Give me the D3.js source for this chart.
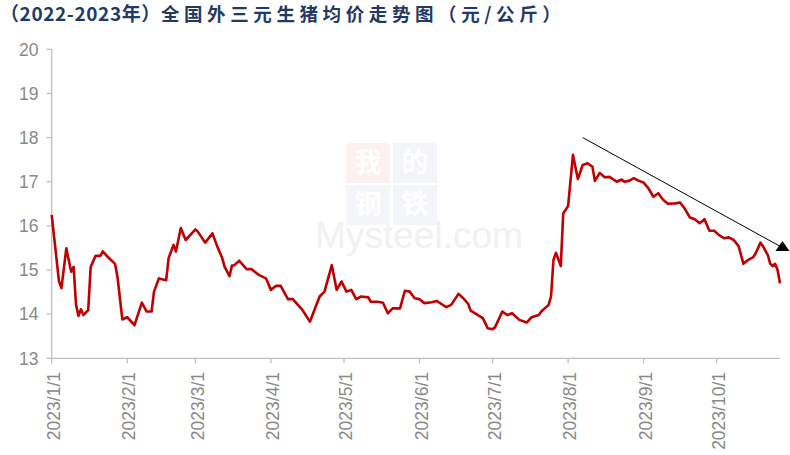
<!DOCTYPE html>
<html><head><meta charset="utf-8">
<script src="https://cdn.jsdelivr.net/npm/d3@7"></script>
<style>body{margin:0;background:#fff}svg{display:block}</style>
</head><body><svg id="c" width="790" height="455"></svg>
<script>
const titleA = "（2022-2023年）";
const titleB = "全国外三元生猪均价走势图（元/公斤）";
const dates = ["2023/1/1","2023/1/4","2023/1/5","2023/1/7","2023/1/9","2023/1/10","2023/1/11","2023/1/12","2023/1/13","2023/1/14","2023/1/16","2023/1/17","2023/1/19","2023/1/21","2023/1/22","2023/1/24","2023/1/27","2023/1/28","2023/1/30","2023/2/1","2023/2/4","2023/2/7","2023/2/9","2023/2/11","2023/2/12","2023/2/14","2023/2/17","2023/2/18","2023/2/20","2023/2/21","2023/2/23","2023/2/25","2023/3/1","2023/3/2","2023/3/5","2023/3/8","2023/3/10","2023/3/12","2023/3/13","2023/3/15","2023/3/16","2023/3/17","2023/3/19","2023/3/22","2023/3/24","2023/3/27","2023/3/30","2023/4/1","2023/4/3","2023/4/5","2023/4/8","2023/4/10","2023/4/14","2023/4/17","2023/4/21","2023/4/23","2023/4/26","2023/4/28","2023/4/30","2023/5/2","2023/5/4","2023/5/6","2023/5/8","2023/5/11","2023/5/12","2023/5/15","2023/5/17","2023/5/19","2023/5/21","2023/5/24","2023/5/26","2023/5/28","2023/5/30","2023/6/1","2023/6/3","2023/6/6","2023/6/8","2023/6/10","2023/6/12","2023/6/14","2023/6/17","2023/6/19","2023/6/21","2023/6/22","2023/6/25","2023/6/27","2023/6/29","2023/7/1","2023/7/2","2023/7/5","2023/7/7","2023/7/9","2023/7/12","2023/7/15","2023/7/17","2023/7/20","2023/7/21","2023/7/24","2023/7/25","2023/7/26","2023/7/27","2023/7/29","2023/7/30","2023/8/1","2023/8/3","2023/8/5","2023/8/7","2023/8/9","2023/8/11","2023/8/12","2023/8/14","2023/8/16","2023/8/18","2023/8/21","2023/8/23","2023/8/24","2023/8/26","2023/8/28","2023/8/30","2023/9/1","2023/9/3","2023/9/5","2023/9/7","2023/9/9","2023/9/11","2023/9/14","2023/9/16","2023/9/18","2023/9/20","2023/9/22","2023/9/24","2023/9/26","2023/9/28","2023/9/30","2023/10/2","2023/10/4","2023/10/6","2023/10/8","2023/10/10","2023/10/12","2023/10/14","2023/10/16","2023/10/17","2023/10/19","2023/10/20","2023/10/22","2023/10/23","2023/10/24","2023/10/25","2023/10/26","2023/10/27"];
const prices = [16.25,14.74,14.59,15.49,14.96,15.07,14.21,13.96,14.11,13.98,14.09,15.07,15.32,15.32,15.42,15.30,15.14,14.85,13.88,13.93,13.75,14.26,14.06,14.06,14.51,14.81,14.77,15.27,15.57,15.42,15.95,15.68,15.92,15.87,15.62,15.83,15.53,15.27,15.07,14.86,15.10,15.11,15.21,15.02,15.02,14.89,14.81,14.55,14.64,14.64,14.34,14.34,14.09,13.83,14.40,14.51,15.11,14.55,14.74,14.51,14.55,14.34,14.40,14.38,14.28,14.28,14.26,14.02,14.13,14.13,14.53,14.51,14.36,14.34,14.25,14.27,14.30,14.23,14.16,14.21,14.46,14.36,14.23,14.08,13.98,13.91,13.68,13.66,13.70,14.06,13.98,14.02,13.87,13.81,13.93,13.98,14.06,14.21,14.40,15.23,15.39,15.09,16.28,16.45,17.61,17.06,17.38,17.42,17.34,17.02,17.20,17.10,17.11,17.00,17.05,17.00,17.02,17.08,17.02,16.98,16.85,16.66,16.74,16.59,16.50,16.51,16.53,16.38,16.19,16.15,16.06,16.15,15.89,15.89,15.79,15.72,15.74,15.68,15.54,15.14,15.23,15.29,15.38,15.62,15.54,15.34,15.14,15.09,15.14,15.00,14.70];
const tickDates = ["2023/1/1","2023/2/1","2023/3/1","2023/4/1","2023/5/1","2023/6/1","2023/7/1","2023/8/1","2023/9/1","2023/10/1"];
const yTicks = [13,14,15,16,17,18,19,20];
const xDomain = ["2023/1/1","2023/10/27"];
const arrowFrom = {date:"2023/8/7", value:18.0};
const arrowTo = {date:"2023/10/28", value:15.5};
const watermarkChars = ["我","的","钢","铁"];
const watermarkText = "Mysteel.com";

const parse = d3.timeParse("%Y/%m/%d");
const svg = d3.select("#c");
const x = d3.scaleTime().domain(xDomain.map(parse)).range([51.7, 780]);
const y = d3.scaleLinear().domain([13, 20]).range([358.3, 49.3]);
const axisColor = "#bfbfbf", labelColor = "#898989";
const font = "'Liberation Sans', Arial, sans-serif";

// watermark
const wm = svg.append("g");
const sq = 44, gap = 3, wx0 = 346, wy0 = 143;
const sqFill = ["#fdf0f0","#f3f5f9","#f3f5f9","#f3f5f9"];
watermarkChars.forEach((ch, i) => {
  const cx = wx0 + (i % 2) * (sq + gap), cy = wy0 + Math.floor(i / 2) * (sq - 2);
  wm.append("rect").attr("x", cx).attr("y", cy).attr("width", sq).attr("height", sq - 4).attr("fill", sqFill[i]);
  wm.append("text").attr("x", cx + sq / 2).attr("y", cy + sq / 2 + 7).attr("text-anchor", "middle")
    .attr("font-family", "'Noto Sans CJK SC'").attr("font-weight", 700).attr("font-size", 27).attr("fill", "#ffffff").text(ch);
});
wm.append("text").attr("x", 315).attr("y", 248).attr("font-family", font).attr("font-size", 36)
  .attr("textLength", 208).attr("lengthAdjust", "spacingAndGlyphs").attr("fill", "#f1f1f1").text(watermarkText);

// title
const t = svg.append("text").attr("x", 0).attr("y", 21).attr("font-family", "'Noto Sans CJK SC', sans-serif")
  .attr("font-weight", 700).attr("fill", "#1f3a64");
t.append("tspan").attr("font-size", 19).attr("letter-spacing", 0.6).text(titleA);
t.append("tspan").attr("font-size", 18.5).attr("letter-spacing", 4.6).text(titleB);

// y axis
const ya = svg.append("g");
ya.append("line").attr("x1", 51.7).attr("x2", 51.7).attr("y1", y(20)).attr("y2", y(13)).attr("stroke", axisColor).attr("stroke-width", 1.3);
yTicks.forEach(v => {
  ya.append("line").attr("x1", 46.5).attr("x2", 51.7).attr("y1", y(v)).attr("y2", y(v)).attr("stroke", axisColor).attr("stroke-width", 1.3);
  ya.append("text").attr("x", 38.5).attr("y", y(v)).attr("dy", "0.36em").attr("text-anchor", "end")
    .attr("font-family", font).attr("font-size", 17.5).attr("fill", labelColor).text(v);
});

// x axis
const xa = svg.append("g");
xa.append("line").attr("x1", 51.7).attr("x2", 780).attr("y1", y(13)).attr("y2", y(13)).attr("stroke", axisColor).attr("stroke-width", 1.3);
tickDates.forEach(d => {
  const px = x(parse(d));
  xa.append("line").attr("x1", px).attr("x2", px).attr("y1", y(13)).attr("y2", y(13) + 5).attr("stroke", axisColor).attr("stroke-width", 1.3);
  xa.append("text").attr("transform", `translate(${px + 1.8},372) rotate(-90)`).attr("dy", "0.36em")
    .attr("text-anchor", "end").attr("font-family", font).attr("font-size", 17.5).attr("fill", labelColor).text(d);
});

// line
const data = dates.map((d, i) => ({date: parse(d), value: prices[i]}));
svg.append("path").datum(data).attr("fill", "none").attr("stroke", "#c00000").attr("stroke-width", 2.6)
  .attr("stroke-linejoin", "round")
  .attr("d", d3.line().x(d => x(d.date)).y(d => y(d.value)));

// arrow annotation
const ax1 = x(parse(arrowFrom.date)), ay1 = y(arrowFrom.value);
const ax2 = x(parse(arrowTo.date)), ay2 = y(arrowTo.value);
svg.append("line").attr("x1", ax1).attr("y1", ay1).attr("x2", ax2 - 3).attr("y2", ay2 - 2).attr("stroke", "#000").attr("stroke-width", 1);
svg.append("path").attr("d", `M${ax2},${ay2 - 7}L${ax2 + 7},${ay2 + 3}L${ax2 - 7},${ay2 + 3}Z`).attr("fill", "#000");
</script></body></html>
